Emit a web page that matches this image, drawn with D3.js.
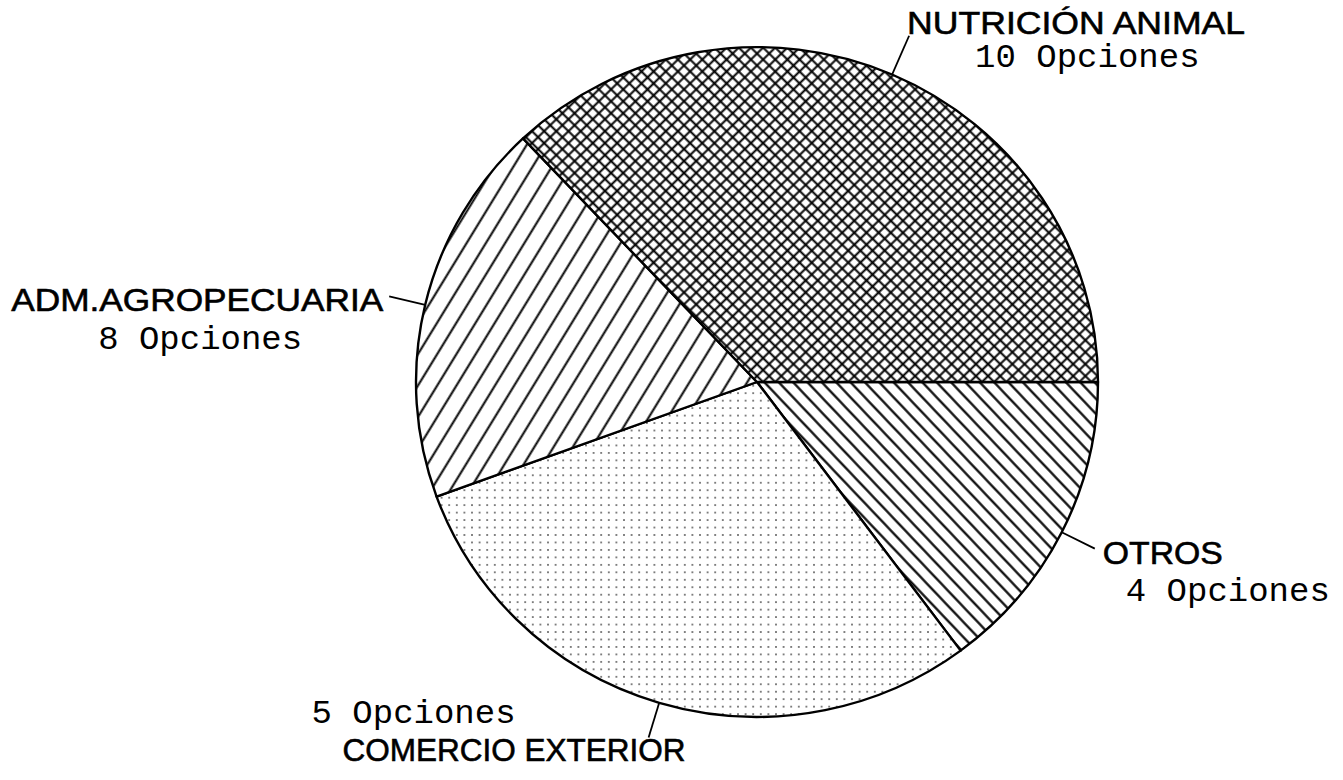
<!DOCTYPE html>
<html>
<head>
<meta charset="utf-8">
<script src="https://cdn.jsdelivr.net/npm/d3@7"></script>
<style>
  body { margin: 0; background: #fff; }
  svg { display: block; }
</style>
</head>
<body>
<script>
// slices clockwise from 3 o'clock
var categories = ["OTROS", "COMERCIO EXTERIOR", "ADM.AGROPECUARIA", "NUTRICIÓN ANIMAL"];
// sizes as drawn in the picture
var sliceValues = [4, 8, 5, 10];
// counts as printed next to each name
var optionLabels = ["4 Opciones", "5 Opciones", "8 Opciones", "10 Opciones"];
var patterns = ["back", "dots", "fwd", "cross"];

var width = 1343, height = 780;
var cx = 757, cy = 382, radius = 341, squash = 0.982;

var svg = d3.select("body").append("svg")
    .attr("width", width)
    .attr("height", height);

var defs = svg.append("defs");

// cross hatch
var cw = 8.6;
var p = defs.append("pattern").attr("id", "cross")
    .attr("patternUnits", "userSpaceOnUse")
    .attr("width", cw).attr("height", cw)
    .attr("patternTransform", "rotate(45)");
p.append("rect").attr("width", cw).attr("height", cw).attr("fill", "#fff");
p.append("line").attr("x1", 0).attr("y1", cw / 2).attr("x2", cw).attr("y2", cw / 2)
    .attr("stroke", "#000").attr("stroke-width", 2);
p.append("line").attr("x1", cw / 2).attr("y1", 0).attr("x2", cw / 2).attr("y2", cw)
    .attr("stroke", "#000").attr("stroke-width", 2);

// "/" hatch
var fw = 16.5;
p = defs.append("pattern").attr("id", "fwd")
    .attr("patternUnits", "userSpaceOnUse")
    .attr("width", fw).attr("height", fw)
    .attr("patternTransform", "rotate(31)");
p.append("rect").attr("width", fw).attr("height", fw).attr("fill", "#fff");
p.append("line").attr("x1", fw / 2).attr("y1", 0).attr("x2", fw / 2).attr("y2", fw)
    .attr("stroke", "#000").attr("stroke-width", 2);

// "\" hatch
var bw = 10.5;
p = defs.append("pattern").attr("id", "back")
    .attr("patternUnits", "userSpaceOnUse")
    .attr("width", bw).attr("height", bw)
    .attr("patternTransform", "rotate(-43)");
p.append("rect").attr("width", bw).attr("height", bw).attr("fill", "#fff");
p.append("line").attr("x1", bw / 2).attr("y1", 0).attr("x2", bw / 2).attr("y2", bw)
    .attr("stroke", "#000").attr("stroke-width", 2.2);

// dots
var dw = 7.6;
p = defs.append("pattern").attr("id", "dots")
    .attr("patternUnits", "userSpaceOnUse")
    .attr("width", dw).attr("height", dw);
p.append("rect").attr("width", dw).attr("height", dw).attr("fill", "#fff");
p.append("circle").attr("cx", dw / 2).attr("cy", dw / 2).attr("r", 0.9).attr("fill", "#444");

var pie = d3.pie().sort(null)
    .startAngle(Math.PI / 2)
    .endAngle(Math.PI / 2 + 2 * Math.PI);

var arcs = pie(sliceValues);

var arc = d3.arc().innerRadius(0).outerRadius(radius);

var g = svg.append("g")
    .attr("transform", "translate(" + cx + "," + cy + ") scale(1," + squash + ")");

g.selectAll("path.slice")
    .data(arcs).enter()
    .append("path")
    .attr("class", "slice")
    .attr("d", arc)
    .attr("fill", function(d, i) { return "url(#" + patterns[i] + ")"; })
    .attr("stroke", "#000")
    .attr("stroke-width", 2.4)
    .attr("stroke-linejoin", "round");

// leader lines, radial from the rim
var leaderOut = [378, 378, 378, 384];
function pt(a, r) {
    return [cx + r * Math.sin(a), cy - r * squash * Math.cos(a)];
}
arcs.forEach(function(d, i) {
    d.mid = (d.startAngle + d.endAngle) / 2;
    d.p0 = pt(d.mid, radius);
    d.p1 = pt(d.mid, leaderOut[i]);
});

svg.append("g").selectAll("line")
    .data(arcs).enter()
    .append("line")
    .attr("x1", function(d) { return d.p0[0]; })
    .attr("y1", function(d) { return d.p0[1]; })
    .attr("x2", function(d) { return d.p1[0]; })
    .attr("y2", function(d) { return d.p1[1]; })
    .attr("stroke", "#000")
    .attr("stroke-width", 1.8);

// label layout relative to the leader end
var layout = [
    { nx: 8, ny: 15, na: "start", nw: 120, ox: 31, oy: 52, oa: "start" },
    { nx: 37, ny: 23, na: "end", nw: 343, ox: -133, oy: -15, oa: "end" },
    { nx: -6, ny: 15, na: "end", nw: 372, ox: -87, oy: 53, oa: "end" },
    { nx: -2, ny: -2, na: "start", nw: 338, ox: 66, oy: 31, oa: "start" }
];

var labels = svg.append("g");
labels.selectAll("text.name")
    .data(arcs).enter()
    .append("text")
    .attr("class", "name")
    .attr("x", function(d, i) { return d.p1[0] + layout[i].nx; })
    .attr("y", function(d, i) { return d.p1[1] + layout[i].ny; })
    .attr("text-anchor", function(d, i) { return layout[i].na; })
    .attr("textLength", function(d, i) { return layout[i].nw; })
    .attr("lengthAdjust", "spacingAndGlyphs")
    .attr("font-family", "'Liberation Sans', Arial, sans-serif")
    .attr("font-size", 32)
    .attr("fill", "#000")
    .attr("stroke", "#000")
    .attr("stroke-width", 0.6)
    .text(function(d, i) { return categories[i]; });

labels.selectAll("text.count")
    .data(arcs).enter()
    .append("text")
    .attr("class", "count")
    .attr("x", function(d, i) { return d.p1[0] + layout[i].ox; })
    .attr("y", function(d, i) { return d.p1[1] + layout[i].oy; })
    .attr("text-anchor", function(d, i) { return layout[i].oa; })
    .attr("font-family", "'Liberation Mono', 'Courier New', monospace")
    .attr("font-size", 34)
    .attr("fill", "#000")
    .text(function(d, i) { return optionLabels[i]; });
</script>
</body>
</html>
